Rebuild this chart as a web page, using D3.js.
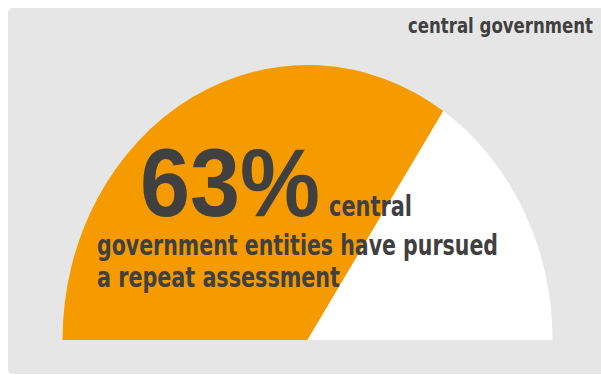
<!DOCTYPE html>
<html>
<head>
<meta charset="utf-8">
<script src="https://cdn.jsdelivr.net/npm/d3@7"></script>
<style>
  body { margin: 0; background: #fff; }
  text { font-family: "Liberation Sans Narrow", "DejaVu Sans Condensed", "Roboto", sans-serif; font-weight: bold; fill: #404040; }
  .big { font-family: "Liberation Sans", Arial, sans-serif; }
</style>
</head>
<body>
<svg id="chart" width="601" height="375"></svg>
<script>
// gauge data (share as drawn in the picture, headline as printed)
var categories = ["pursued repeat assessment", "other"];
var shares = [68.7, 31.3];
var colors = ["#f59b00", "#ffffff"];
var headline = "63%";
var titleText = "central government";
var bodyLines = ["central", "government entities have pursued", "a repeat assessment"];

var width = 601, height = 375;
var cx = 307.5, cy = 340, rx = 245, ry = 275;

var svg = d3.select("#chart");

// panel
svg.append("rect")
  .attr("x", 8).attr("y", 8)
  .attr("width", 600).attr("height", 366)
  .attr("rx", 5)
  .attr("fill", "#e6e6e6");

var pie = d3.pie().sort(null).value(function(d) { return d; })
  .startAngle(-Math.PI / 2).endAngle(Math.PI / 2);

var arc = d3.arc().innerRadius(0).outerRadius(rx);

// circle squashed into the ellipse the original uses
svg.append("g")
  .attr("transform", "translate(" + cx + "," + cy + ") scale(1," + (ry / rx) + ")")
  .selectAll("path")
  .data(pie(shares))
  .enter()
  .append("path")
  .attr("d", arc)
  .attr("fill", function(d, i) { return colors[i]; });

// labels
svg.append("text")
  .attr("x", 593).attr("y", 33)
  .attr("text-anchor", "end")
  .attr("font-size", 21)
  .attr("textLength", 185)
  .attr("lengthAdjust", "spacingAndGlyphs")
  .text(titleText);

svg.append("text")
  .attr("class", "big")
  .attr("x", 140).attr("y", 216)
  .attr("font-size", 97)
  .attr("textLength", 180)
  .attr("lengthAdjust", "spacingAndGlyphs")
  .text(headline);

var lines = [
  {x: 329, y: 216, w: 83},
  {x: 97, y: 255, w: 401},
  {x: 97, y: 287, w: 243}
];
svg.selectAll("text.body")
  .data(bodyLines)
  .enter()
  .append("text")
  .attr("class", "body")
  .attr("x", function(d, i) { return lines[i].x; })
  .attr("y", function(d, i) { return lines[i].y; })
  .attr("font-size", 28)
  .attr("textLength", function(d, i) { return lines[i].w; })
  .attr("lengthAdjust", "spacingAndGlyphs")
  .text(function(d) { return d; });
</script>
</body>
</html>
